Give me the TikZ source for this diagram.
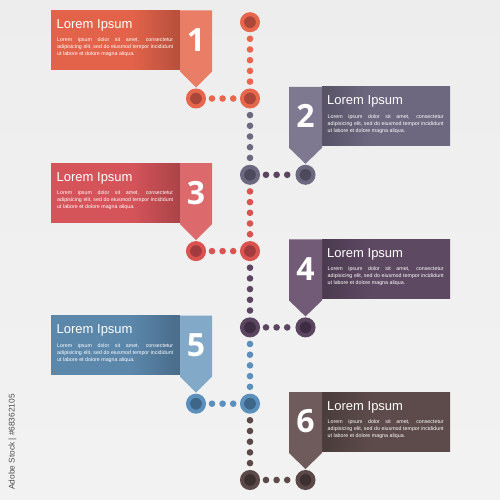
\documentclass[tikz,border=0pt]{standalone}
\usepackage{fontspec}
\setmainfont{Liberation Sans}
\newfontfamily\numfont{Open Sans}
\definecolor{c1rect}{HTML}{E3634A}\definecolor{c1tab}{HTML}{EA7D65}\definecolor{c1out}{HTML}{E8664C}\definecolor{c1in}{HTML}{A8473A}\definecolor{c1hd}{HTML}{E8664C}
\definecolor{c2rect}{HTML}{6D6880}\definecolor{c2tab}{HTML}{7E7991}\definecolor{c2out}{HTML}{6C6880}\definecolor{c2in}{HTML}{4E4A5E}\definecolor{c2hd}{HTML}{5C4460}
\definecolor{c3rect}{HTML}{D5545A}\definecolor{c3tab}{HTML}{DC6A6C}\definecolor{c3out}{HTML}{DA5350}\definecolor{c3in}{HTML}{A23B3E}\definecolor{c3hd}{HTML}{DA5350}
\definecolor{c4rect}{HTML}{5E4963}\definecolor{c4tab}{HTML}{715B77}\definecolor{c4out}{HTML}{5B4560}\definecolor{c4in}{HTML}{3E2D43}\definecolor{c4hd}{HTML}{5B4560}
\definecolor{c5rect}{HTML}{5B87AB}\definecolor{c5tab}{HTML}{82A9C8}\definecolor{c5out}{HTML}{5B8FBC}\definecolor{c5in}{HTML}{3D6688}\definecolor{c5hd}{HTML}{5B8FBC}
\definecolor{c6rect}{HTML}{5D4B4B}\definecolor{c6tab}{HTML}{6F5B5B}\definecolor{c6out}{HTML}{5B4949}\definecolor{c6in}{HTML}{3C3030}\definecolor{c6hd}{HTML}{5B4949}
\colorlet{bxbase}{black}\colorlet{bxdark}{black}
\pgfdeclarehorizontalshading[bxbase,bxdark]{boxL}{100bp}{color(0bp)=(bxbase); color(25bp)=(bxbase); color(56bp)=(bxbase); color(75bp)=(bxdark); color(100bp)=(bxdark)}
\pgfdeclarehorizontalshading[bxbase,bxdark]{boxR}{100bp}{color(0bp)=(bxdark); color(25bp)=(bxdark); color(44bp)=(bxbase); color(75bp)=(bxbase); color(100bp)=(bxbase)}
\tikzset{
  bigdot/.style={circle, minimum size=16pt, inner sep=0pt, line width=4pt},
  vdots/.style={line width=6.6pt, line cap=round, dash pattern=on 0pt off 10.7pt, shorten >=6.6pt, shorten <=6.6pt},
  hdots/.style={line width=6.6pt, line cap=round, dash pattern=on 0pt off 10.6pt, shorten >=6pt, shorten <=6pt},
  boxrect/.style={inner sep=0pt, minimum width=129pt, minimum height=59pt},
  titletxt/.style={text=white, inner sep=0pt, font=\fontsize{13}{15}\selectfont},
  bodytxt/.style={text=white, inner sep=0pt, font=\fontsize{5.3}{7}\selectfont},
  numtxt/.style={text=white, inner sep=0pt, font=\numfont\bfseries\fontsize{32}{34}\selectfont},
}
\newcommand{\bodytext}{\parbox[t]{116pt}{\hyphenpenalty=10000 Lorem ipsum dolor sit amet, consectetur\linebreak adipisicing elit, sed do eiusmod tempor incididunt\linebreak ut labore et dolore magna aliqua.}}
\begin{document}
\begin{tikzpicture}[x=1pt, y=-1pt]
\useasboundingbox (0,0) rectangle (500,500);
\shade[top color=gray!14, middle color=white, bottom color=gray!10] (0,0) rectangle (500,500);
% top circle
\node[bigdot, draw=c1out, fill=c1in] (j0) at (250,22.2) {};
% left blocks
\foreach \i/\J in {1/98.5,3/251.1,5/403.7}{
  \colorlet{bxbase}{c\i rect}\colorlet{bxdark}{c\i rect!80!black}
  \node[boxrect, shading=boxL] (r\i) at (115.5,\J-58.5) {};
  \fill[c\i tab] (180,\J-88) -- (212,\J-88) -- (212,\J-27) -- (196,\J-11) -- (180,\J-27) -- cycle;
  \node[numtxt] (n\i) at (196,\J-58.5) {\i};
  \node[titletxt, anchor=base west] (t\i) at (56.5,\J-70) {Lorem Ipsum};
  \node[bodytxt, anchor=base west] (b\i) at (57,\J-56.5) {\bodytext};
  \node[bigdot, draw=c\i out, fill=c\i in] (p\i) at (196,\J) {};
  \node[bigdot, draw=c\i out, fill=c\i in] (j\i) at (250,\J) {};
  \draw[hdots, c\i hd] (p\i) -- (j\i);
}
% right blocks
\foreach \i/\J in {2/174.8,4/327.4,6/480}{
  \colorlet{bxbase}{c\i rect}\colorlet{bxdark}{c\i rect!80!black}
  \node[boxrect, shading=boxR, minimum width=128pt] (r\i) at (386,\J-58.5) {};
  \fill[c\i tab] (289,\J-88) -- (322,\J-88) -- (322,\J-27) -- (305.5,\J-11) -- (289,\J-27) -- cycle;
  \node[numtxt] (n\i) at (305.5,\J-58.5) {\i};
  \node[titletxt, anchor=base west] (t\i) at (327,\J-70) {Lorem Ipsum};
  \node[bodytxt, anchor=base west] (b\i) at (327.5,\J-56.5) {\bodytext};
  \node[bigdot, draw=c\i out, fill=c\i in] (j\i) at (250,\J) {};
  \node[bigdot, draw=c\i out, fill=c\i in] (p\i) at (305.5,\J) {};
  \draw[hdots, c\i hd] (j\i) -- (p\i);
}
% vertical dotted connectors
\draw[vdots, c1out] (j0) -- (j1);
\draw[vdots, c2out] (j1) -- (j2);
\draw[vdots, c3out] (j2) -- (j3);
\draw[vdots, c4out] (j3) -- (j4);
\draw[vdots, c5out] (j4) -- (j5);
\draw[vdots, c6out] (j5) -- (j6);
% stock label
\node[rotate=90, inner sep=0pt, text=black!70, font=\fontsize{8.3}{9}\selectfont] (wm) at (12.5,442) {Adobe Stock | \#68362105};
\end{tikzpicture}
\end{document}
